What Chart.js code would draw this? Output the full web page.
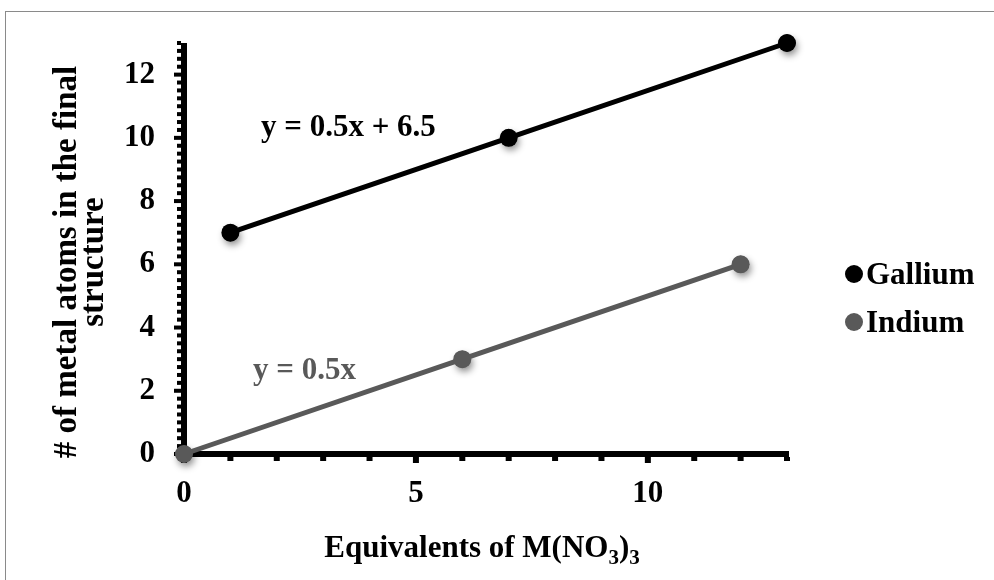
<!DOCTYPE html>
<html>
<head>
<meta charset="utf-8">
<title>Metal atoms vs equivalents of M(NO3)3</title>
<style>
  html, body { margin: 0; padding: 0; background: #ffffff; }
  #wrap { width: 994px; height: 580px; position: relative; }
  canvas { display: block; }
</style>
<script src="https://cdn.jsdelivr.net/npm/chart.js@4.4.1/dist/chart.umd.min.js"></script>
</head>
<body>
<div id="wrap"><canvas id="chart" width="994" height="580"></canvas></div>
<script>
// Series data: equivalents of M(NO3)3 (x) and metal atoms in the final structure (y)
const galliumX = [1, 7, 13];
const galliumY = [7, 10, 13];
const indiumX = [0, 6, 12];
const indiumY = [0, 3, 6];
const seriesNames = ['Gallium', 'Indium'];

// Axis tick labels
const xTickValues = [0, 5, 10];
const yTickValues = [0, 2, 4, 6, 8, 10, 12];

// Trendline equations
const fitLabels = ['y = 0.5x + 6.5', 'y = 0.5x'];

const FONT = '"Liberation Serif", "Times New Roman", Times, serif';
const BLACK = '#000000';
const GREY = '#595959';
const TEXT_SIZE = 31;

function points(xs, ys) {
  return xs.map((x, i) => ({ x: x, y: ys[i] }));
}

// Axes, tick marks, marker shadows, legend and text annotations
const decor = {
  id: 'decor',
  beforeDraw(chart) {
    const ctx = chart.ctx;
    ctx.save();
    ctx.fillStyle = '#ffffff';
    ctx.fillRect(0, 0, chart.width, chart.height);
    ctx.strokeStyle = '#8a8a8a';
    ctx.lineWidth = 1;
    ctx.strokeRect(5.5, 11.5, chart.width + 20, chart.height + 20);
    ctx.restore();
  },
  beforeDatasetsDraw(chart) {
    const ctx = chart.ctx;
    const xs = chart.scales.x, ys = chart.scales.y;
    const x0 = xs.getPixelForValue(0), xEnd = xs.getPixelForValue(xs.max);
    const y0 = ys.getPixelForValue(0), yEnd = ys.getPixelForValue(ys.max);
    ctx.save();
    ctx.fillStyle = BLACK;
    // axis lines
    ctx.fillRect(x0 - 3, y0 - 3, xEnd - x0 + 5, 6);
    ctx.fillRect(x0 - 3, yEnd, 6, y0 - yEnd + 3);
    // y tick marks: major every 2, minor every 0.25
    for (let v = 0; v <= ys.max + 1e-9; v += 0.25) {
      const py = ys.getPixelForValue(v);
      const major = Math.abs(v % 2) < 1e-9;
      const len = major ? 7 : 4;
      ctx.fillRect(x0 - 3 - len, py - 2, len, 4);
    }
    // x tick marks: major every 5, minor every 1
    for (let v = 0; v <= xs.max + 1e-9; v += 1) {
      const px = xs.getPixelForValue(v);
      const major = v % 5 === 0;
      const len = major ? 6 : 4;
      ctx.fillRect(px - 3, y0 + 3, 6, len);
    }
    // soft shadows under the markers
    chart.data.datasets.forEach((ds, i) => {
      const meta = chart.getDatasetMeta(i);
      meta.data.forEach(el => {
        ctx.save();
        ctx.shadowColor = 'rgba(0,0,0,0.45)';
        ctx.shadowBlur = 7;
        ctx.shadowOffsetX = 2;
        ctx.shadowOffsetY = 4;
        ctx.fillStyle = ds.backgroundColor;
        ctx.beginPath();
        ctx.arc(el.x, el.y, 8.5, 0, Math.PI * 2);
        ctx.fill();
        ctx.restore();
      });
    });
    ctx.restore();
  },
  afterDraw(chart) {
    const ctx = chart.ctx;
    ctx.save();
    ctx.font = 'bold ' + TEXT_SIZE + 'px ' + FONT;
    ctx.textAlign = 'left';
    ctx.textBaseline = 'alphabetic';

    // trendline equations
    ctx.fillStyle = BLACK;
    ctx.fillText(fitLabels[0], 261, 136);
    ctx.fillStyle = GREY;
    ctx.fillText(fitLabels[1], 253, 379);

    // legend
    const legendRows = [274, 322];
    chart.data.datasets.forEach((ds, i) => {
      const cy = legendRows[i];
      ctx.fillStyle = ds.backgroundColor;
      ctx.beginPath();
      ctx.arc(854, cy, 9, 0, Math.PI * 2);
      ctx.fill();
      ctx.fillStyle = BLACK;
      ctx.fillText(seriesNames[i], 866, cy + 10);
    });

    // x axis title with subscripts
    const subFont = 'bold 21px ' + FONT;
    const mainFont = 'bold ' + TEXT_SIZE + 'px ' + FONT;
    const parts = [
      { t: 'Equivalents of M(NO', sub: false },
      { t: '3', sub: true },
      { t: ')', sub: false },
      { t: '3', sub: true }
    ];
    let total = 0;
    parts.forEach(p => {
      ctx.font = p.sub ? subFont : mainFont;
      p.w = ctx.measureText(p.t).width;
      total += p.w;
    });
    let tx = 482 - total / 2;
    ctx.fillStyle = BLACK;
    parts.forEach(p => {
      ctx.font = p.sub ? subFont : mainFont;
      ctx.fillText(p.t, tx, p.sub ? 564 : 557);
      tx += p.w;
    });

    // y axis title, two rotated lines
    ctx.textAlign = 'center';
    ctx.font = 'bold 33px ' + FONT;
    const yLines = ['# of metal atoms in the final', 'structure'];
    const baseX = [76, 103];
    yLines.forEach((line, i) => {
      ctx.save();
      ctx.translate(baseX[i], 262);
      ctx.rotate(-Math.PI / 2);
      ctx.fillText(line, 0, 0);
      ctx.restore();
    });
    ctx.restore();
  }
};

const tickFont = { family: FONT, size: TEXT_SIZE, weight: 'bold' };

function clearPadding(scale) {
  scale.paddingTop = 0;
  scale.paddingBottom = 0;
  scale.paddingLeft = 0;
  scale.paddingRight = 0;
}

new Chart(document.getElementById('chart').getContext('2d'), {
  type: 'scatter',
  data: {
    datasets: [
      {
        label: seriesNames[0],
        data: points(galliumX, galliumY),
        showLine: true,
        borderColor: BLACK,
        backgroundColor: BLACK,
        borderWidth: 5,
        pointRadius: 9,
        pointHoverRadius: 9,
        pointBorderWidth: 0,
        pointBackgroundColor: BLACK,
        clip: false
      },
      {
        label: seriesNames[1],
        data: points(indiumX, indiumY),
        showLine: true,
        borderColor: GREY,
        backgroundColor: GREY,
        borderWidth: 5,
        pointRadius: 9,
        pointHoverRadius: 9,
        pointBorderWidth: 0,
        pointBackgroundColor: GREY,
        clip: false
      }
    ]
  },
  options: {
    responsive: false,
    animation: false,
    devicePixelRatio: 1,
    layout: { padding: { left: 0, top: 43, right: 207, bottom: 0 } },
    plugins: {
      legend: { display: false },
      tooltip: { enabled: false }
    },
    scales: {
      x: {
        type: 'linear',
        min: 0,
        max: 13,
        afterFit(scale) { scale.height = 126; clearPadding(scale); },
        afterBuildTicks(scale) { scale.ticks = xTickValues.map(v => ({ value: v })); },
        grid: { display: false, drawTicks: false },
        border: { display: false },
        ticks: { padding: 21, font: tickFont, color: BLACK, maxRotation: 0, autoSkip: false }
      },
      y: {
        type: 'linear',
        min: 0,
        max: 13,
        afterFit(scale) { scale.width = 184; clearPadding(scale); },
        afterBuildTicks(scale) { scale.ticks = yTickValues.map(v => ({ value: v })); },
        grid: { display: false, drawTicks: false },
        border: { display: false },
        ticks: { padding: 29, font: tickFont, color: BLACK, autoSkip: false }
      }
    }
  },
  plugins: [decor]
});
</script>
</body>
</html>
